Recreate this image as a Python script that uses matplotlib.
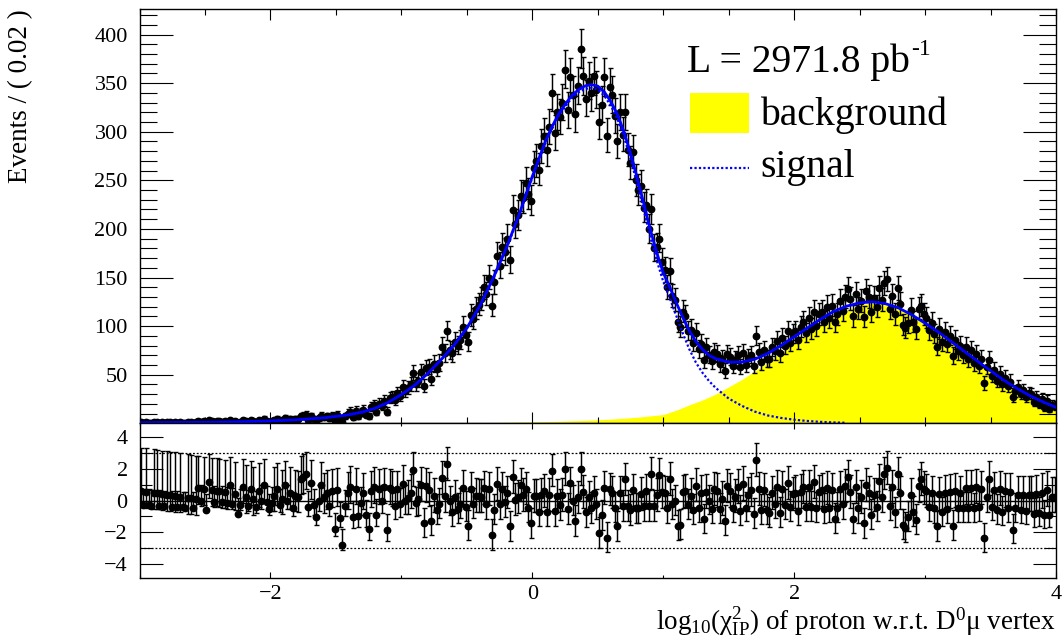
import numpy as np
import matplotlib
matplotlib.use("Agg")
import matplotlib.pyplot as plt
from matplotlib.ticker import MultipleLocator, FixedLocator
from matplotlib.patches import Rectangle
from matplotlib.lines import Line2D

plt.rcParams["font.family"] = ["Liberation Serif", "DejaVu Serif"]
plt.rcParams["mathtext.fontset"] = "custom"
plt.rcParams["mathtext.rm"] = "Liberation Serif"
plt.rcParams["mathtext.it"] = "Liberation Serif:italic"
plt.rcParams["mathtext.default"] = "regular"

# binning: 350 bins of 0.02 in log10(chi2_IP)
x_lo, x_hi, n_bins = -3.0, 4.0, 350

# events per bin (left to right)
counts = [
    1, 0, 1, 0, 0, 1, 1, 0, 1, 0,
    1, 1, 0, 1, 0, 1, 0, 0, 1, 1,
    0, 1, 2, 1, 2, 0, 3, 2, 1, 2,
    2, 1, 2, 1, 3, 1, 2, 0, 1, 3,
    2, 1, 3, 2, 1, 3, 2, 4, 2, 1,
    2, 3, 4, 2, 3, 5, 3, 4, 2, 4,
    4, 7, 8, 9, 3, 7, 4, 2, 5, 8,
    6, 7, 5, 8, 2, 9, 4, 1, 7, 10,
    12, 6, 13, 7, 11, 14, 9, 7, 17, 19,
    12, 20, 18, 23, 12, 26, 27, 24, 31, 28,
    37, 33, 36, 40, 52, 40, 44, 53, 38, 57,
    58, 46, 61, 56, 62, 79, 72, 95, 75, 72,
    84, 80, 86, 99, 91, 84, 111, 107, 118, 122,
    128, 140, 133, 150, 121, 145, 172, 162, 181, 176,
    190, 168, 219, 205, 214, 234, 232, 247, 236, 229,
    263, 270, 261, 285, 296, 281, 305, 340, 299, 320,
    315, 330, 364, 322, 356, 338, 318, 347, 385, 357,
    334, 352, 340, 357, 343, 310, 328, 356, 296, 346,
    338, 316, 290, 320, 297, 320, 281, 268, 279, 250,
    240, 244, 222, 225, 200, 220, 180, 181, 190, 166,
    158, 140, 157, 131, 127, 104, 99, 115, 110, 95,
    96, 83, 93, 76, 82, 65, 78, 70, 64, 73,
    71, 61, 66, 54, 71, 68, 59, 65, 70, 58,
    72, 60, 67, 70, 59, 90, 73, 63, 75, 66,
    66, 78, 74, 85, 72, 88, 80, 95, 83, 92,
    95, 86, 99, 104, 93, 108, 97, 115, 100, 112,
    115, 104, 120, 108, 121, 104, 112, 126, 116, 130,
    138, 128, 110, 133, 118, 126, 109, 136, 130, 115,
    129, 120, 139, 127, 144, 148, 118, 131, 112, 139,
    123, 101, 98, 103, 117, 104, 97, 118, 121, 112,
    108, 96, 103, 92, 79, 97, 84, 94, 82, 90,
    69, 86, 74, 80, 70, 79, 66, 75, 62, 71,
    59, 66, 41, 58, 65, 49, 55, 44, 51, 40,
    47, 38, 43, 27, 33, 37, 30, 34, 27, 31,
    30, 22, 27, 20, 25, 17, 23, 15, 19, 18,
]

# pull per bin (lower panel)
pulls = [
    0.6, -0.28, 0.55, -0.3, -0.32, 0.48, 0.46, -0.35, 0.41, -0.37,
    0.36, 0.34, -0.39, 0.3, -0.42, 0.25, -0.44, -0.45, 0.17, 0.15,
    -0.49, 0.08, 0.8, 0.0, 0.74, -0.59, 1.16, 0.67, -0.07, 0.63,
    0.6, -0.11, 0.54, -0.15, 0.98, -0.2, 0.39, -0.84, -0.26, 0.83,
    0.23, -0.33, 0.72, 0.09, -0.41, 0.61, -0.03, 0.96, -0.09, -0.57,
    -0.15, 0.31, 0.73, -0.27, 0.12, 0.97, 0.0, 0.47, -0.47, 0.31,
    0.24, 1.39, 1.5, 1.7, -0.41, 1.09, -0.3, -1.06, 0.0, 1.0,
    0.21, 0.47, -0.33, 0.58, -1.78, 0.68, -1.08, -2.8, -0.32, 0.45,
    0.85, -1.05, 0.75, -1.0, -0.15, 0.45, -0.95, -1.8, 0.6, 0.85,
    -0.9, 0.75, 0.0, 0.85, -1.85, 0.8, 0.65, -0.35, 0.7, -0.2,
    1.05, 0.0, 0.15, 0.5, 1.95, -0.15, 0.1, 1.0, -1.45, 0.9,
    0.65, -1.3, 0.3, -0.6, -0.2, 1.4, 0.3, 2.3, -0.05, -0.7,
    0.2, -0.55, -0.2, 0.8, -0.4, -1.6, 0.7, -0.2, 0.3, 0.3,
    0.25, 0.8, -0.25, 0.7, -2.2, -0.6, 1.05, -0.25, 0.75, -0.1,
    0.5, -1.65, 1.5, 0.05, 0.2, 1.0, 0.35, 0.75, -0.45, -1.45,
    0.3, 0.3, -0.7, 0.35, 0.6, -0.7, 0.35, 1.9, -0.65, 0.3,
    -0.3, 0.35, 2.0, -0.55, 1.1, 0.0, -1.3, 0.2, 2.0, 0.55,
    -0.75, 0.2, -0.45, 0.5, -0.25, -2.05, -0.95, 0.8, -2.35, 0.7,
    0.5, -0.45, -1.65, 0.5, -0.35, 1.35, -0.35, -0.6, 0.65, -0.5,
    -0.5, 0.4, -0.35, 0.6, -0.35, 1.7, -0.35, 0.35, 1.65, 0.55,
    0.5, -0.5, 1.35, -0.25, 0.0, -1.6, -1.55, 0.55, 0.6, -0.3,
    0.3, -0.6, 0.95, -0.5, 0.5, -1.2, 0.55, 0.0, -0.55, 0.7,
    0.6, -0.55, 0.1, -1.3, 0.9, 0.6, -0.5, 0.25, 0.85, -0.65,
    1.05, -0.45, 0.35, 0.65, -0.85, 2.55, 0.7, -0.6, 0.65, -0.6,
    -0.8, 0.45, -0.2, 0.85, -0.8, 0.75, -0.3, 1.1, -0.4, 0.4,
    0.5, -0.65, 0.55, 0.85, -0.4, 0.85, -0.4, 1.15, -0.45, 0.55,
    0.65, -0.55, 0.8, -0.45, 0.65, -1.15, -0.45, 0.75, -0.25, 0.9,
    1.5, 0.55, -1.15, 0.85, -0.5, 0.2, -1.45, 1.0, 0.45, -0.9,
    0.35, -0.4, 1.25, 0.25, 1.7, 2.05, -0.35, 0.85, -0.75, 1.7,
    0.45, -1.55, -1.75, -1.05, 0.35, -0.7, -1.25, 0.9, 1.35, 0.75,
    0.6, -0.4, 0.45, -0.5, -1.65, 0.4, -0.75, 0.5, -0.55, 0.55,
    -1.6, 0.6, -0.5, 0.45, -0.45, 0.8, -0.45, 0.8, -0.5, 0.85,
    -0.4, 0.75, -2.4, 0.25, 1.35, -0.4, 0.65, -0.6, 0.7, -0.7,
    0.6, -0.5, 0.55, -1.85, -0.5, 0.35, -0.6, 0.35, -0.65, 0.35,
    0.35, -0.85, 0.4, -0.8, 0.5, -0.95, 0.65, -0.9, 0.25, 0.25,
]

# fitted curves, read at sample points
tot_x = [-3.0, -2.8, -2.6, -2.4, -2.2, -2.0, -1.8, -1.6, -1.4,
         -1.3, -1.2, -1.1, -1.0, -0.9, -0.8, -0.7, -0.6, -0.5, -0.4, -0.3, -0.2, -0.1, 0.0,
         0.05, 0.1, 0.15, 0.2, 0.25, 0.3, 0.35, 0.4, 0.45, 0.5, 0.55, 0.6, 0.65, 0.7,
         0.75, 0.8, 0.85, 0.9, 0.95, 1.0, 1.05, 1.1, 1.15, 1.2, 1.25, 1.3, 1.35, 1.4,
         1.5, 1.6, 1.7, 1.8, 1.9, 2.0, 2.1, 2.2, 2.3, 2.4, 2.5, 2.6, 2.7, 2.8, 2.9,
         3.0, 3.1, 3.2, 3.3, 3.4, 3.5, 3.6, 3.7, 3.8, 3.9, 4.0]
tot_y = [0.5, 0.7, 0.9, 1.2, 1.7, 2.4, 3.6, 5.5, 8.8,
         11.5, 15.5, 21.5, 29.5, 39, 51, 65, 80, 98, 121, 149, 180, 215, 254,
         272, 290, 305, 318, 328, 337, 343, 347, 348.5, 347, 341, 331, 318, 300,
         278, 253, 227, 200, 176, 155, 140, 124, 109, 95, 84, 76, 70, 66.5,
         63, 63, 66, 72, 80, 89, 98, 107, 115, 120.5, 124, 125, 123, 118.5, 111.5,
         103, 94, 84, 74, 64, 54, 44.5, 36, 28.5, 22, 16.5]

sig_x = [-3.0, -2.8, -2.6, -2.4, -2.2, -2.0, -1.8, -1.6, -1.4,
         -1.3, -1.2, -1.1, -1.0, -0.9, -0.8, -0.7, -0.6, -0.5, -0.4, -0.3, -0.2, -0.1, 0.0,
         0.05, 0.1, 0.15, 0.2, 0.25, 0.3, 0.35, 0.4, 0.45, 0.5, 0.55, 0.6, 0.65, 0.7,
         0.75, 0.8, 0.85, 0.9, 0.95, 1.0, 1.05, 1.1, 1.15, 1.2, 1.25, 1.3, 1.35, 1.4,
         1.5, 1.6, 1.7, 1.8, 1.9, 2.0, 2.1, 2.2, 2.3, 2.4]
sig_y = [0.5, 0.7, 0.9, 1.2, 1.7, 2.4, 3.6, 5.5, 8.8,
         11.5, 15.5, 21.5, 29.5, 39, 50.8, 64.7, 79.6, 97.5, 120.3, 148.2, 179, 213.8, 252.5,
         270.3, 288.2, 302.9, 315.9, 325.5, 334.5, 340.3, 344, 345.1, 343.4, 337.1, 326.7, 313.2, 294.8,
         272.3, 246.8, 220.2, 192.5, 167.8, 146, 128.7, 110.5, 92.5, 76, 62.5, 52, 43.5, 36.5,
         25.5, 18, 12, 8, 5.5, 3.7, 2.4, 1.5, 0.9, 0.5]

bkg_x = [-0.8, -0.6, -0.4, -0.2, 0.0, 0.2, 0.4, 0.6, 0.8, 1.0, 1.1, 1.2, 1.3, 1.4,
         1.5, 1.6, 1.7, 1.8, 1.9, 2.0, 2.1, 2.2, 2.3, 2.4, 2.5, 2.6, 2.7, 2.8, 2.9,
         3.0, 3.1, 3.2, 3.3, 3.4, 3.5, 3.6, 3.7, 3.8, 3.9, 4.0]
bkg_y = [0.2, 0.4, 0.7, 1.0, 1.5, 2.1, 3.0, 4.3, 6.2, 9.0, 13.5, 19, 24, 30,
         37.5, 45, 54, 63, 72.5, 82.5, 92, 101, 109.5, 116, 121.5, 124.5, 123, 118, 111,
         102.5, 93.5, 83.5, 73.5, 63.5, 53.5, 44, 35.5, 28, 21.5, 16]

lumi_text = "L = 2971.8 pb"


def poisson_band(n):
    # approximate 68% Poisson interval (as ROOT draws for low counts)
    n = np.asarray(n, dtype=float)
    m = np.maximum(n, 1)
    lo = np.where(n > 0, n - n * (1 - 1 / (9 * m) - 1 / (3 * np.sqrt(m))) ** 3, 0.0)
    hi = (n + 1) * (1 - 1 / (9 * (n + 1)) + 1 / (3 * np.sqrt(n + 1))) ** 3 - n
    return lo, hi


edges = np.linspace(x_lo, x_hi, n_bins + 1)
centers = 0.5 * (edges[1:] + edges[:-1])
counts = np.array(counts, dtype=float)
pulls = np.array(pulls)
err_lo, err_hi = poisson_band(counts)
norm = np.where(pulls > 0, err_lo, err_hi)
norm = np.where(norm > 0, norm, 1.0)
pull_lo = err_lo / norm
pull_hi = err_hi / norm

W, H = 1063, 644
fig = plt.figure(figsize=(W / 100, H / 100), dpi=100)


def fx(px):
    return px / W


def fy(py):
    return 1 - py / H


left, right = 139.5, 1056.0
ax = fig.add_axes([fx(left), fy(423.3), fx(right) - fx(left), fy(9.3) - fy(423.3)])
axp = fig.add_axes([fx(left), fy(577.7), fx(right) - fx(left), fy(423.3) - fy(577.7)])

blue = "#0000ff"
pt_style = dict(fmt="o", color="black", ms=4.6, elinewidth=1.05, capsize=1.8,
                capthick=1.0, zorder=3)

# top panel
ax.fill_between(bkg_x, 0, bkg_y, color="#ffff00", lw=0, zorder=1)
ax.errorbar(centers, counts, yerr=[err_lo, err_hi], **pt_style)
ax.plot(sig_x, sig_y, color=blue, lw=1.6, ls=(0, (1, 1)), zorder=4)
ax.plot(tot_x, tot_y, color=blue, lw=2.0, zorder=5)

ax.set_xlim(x_lo, x_hi)
ax.set_ylim(0, 426)
ax.xaxis.set_major_locator(MultipleLocator(2))
ax.xaxis.set_minor_locator(MultipleLocator(0.5))
ax.yaxis.set_major_locator(FixedLocator(list(range(50, 401, 50))))
ax.yaxis.set_minor_locator(MultipleLocator(10))
ax.tick_params(which="both", direction="in", top=True, right=True, width=0.8,
               labelbottom=False, labelsize=16, pad=8.5)
ax.tick_params(axis="y", which="major", length=23.5)
ax.tick_params(axis="y", which="minor", length=12)
ax.tick_params(axis="x", which="major", length=7.7)
ax.tick_params(axis="x", which="minor", length=4)

# pull panel
axp.axhline(0, color="black", lw=1.0, zorder=2)
axp.axhline(3, color="black", lw=0.9, ls=(0, (1.5, 1.5)), zorder=1)
axp.axhline(-3, color="black", lw=0.9, ls=(0, (1.5, 1.5)), zorder=1)
axp.errorbar(centers, pulls, yerr=[pull_lo, pull_hi], **pt_style)
axp.set_xlim(x_lo, x_hi)
axp.set_ylim(-4.9, 4.9)
axp.xaxis.set_major_locator(MultipleLocator(2))
axp.xaxis.set_minor_locator(MultipleLocator(1))
axp.yaxis.set_major_locator(FixedLocator([-4, -2, 0, 2, 4]))
axp.yaxis.set_minor_locator(MultipleLocator(1))
axp.tick_params(which="both", direction="in", top=True, right=True, width=0.8,
                labelsize=16)
axp.tick_params(axis="y", which="major", length=16.5, pad=8.5)
axp.tick_params(axis="y", which="minor", length=8.5)
axp.tick_params(axis="x", which="major", length=4, pad=5)
axp.tick_params(axis="x", which="minor", length=2)

for a in (ax, axp):
    for s in a.spines.values():
        s.set_linewidth(1.0)

# axis titles
fig.text(fx(21), fy(9), "Events / ( 0.02 )", rotation=90, ha="center", va="top",
         fontsize=19.5)
fig.text(fx(1056), fy(630),
         "log$_{10}$(χ$^{2}_{IP}$) of proton w.r.t. D$^{0}$μ vertex",
         ha="right", va="baseline", fontsize=19.5)

# legend block
lt = fig.text(fx(687), fy(72), lumi_text, ha="left", va="baseline", fontsize=28.5)
fig.add_artist(Rectangle((fx(690), fy(133)), fx(749) - fx(690), fy(93) - fy(133),
                         transform=fig.transFigure, facecolor="#ffff00", edgecolor="none"))
fig.add_artist(Line2D([fx(690), fx(749)], [fy(168), fy(168)], transform=fig.transFigure,
                      color=blue, lw=1.6, ls=(0, (1, 1))))
fig.text(fx(760), fy(125), "background", ha="left", va="baseline", fontsize=28.5)
fig.text(fx(760), fy(177), "signal", ha="left", va="baseline", fontsize=28.5)

fig.canvas.draw()
bb = lt.get_window_extent()
fig.text(bb.x1 / W + 0.001, fy(55), "-1", ha="left", va="baseline", fontsize=17)

fig.savefig("out.png", dpi=100)
